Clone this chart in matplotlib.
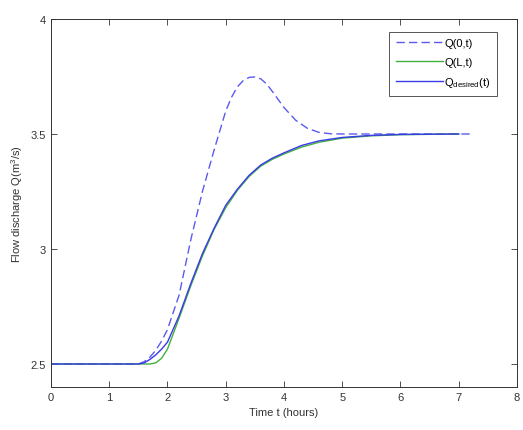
import matplotlib
matplotlib.use('Agg')
import matplotlib.pyplot as plt

# Upstream discharge Q(0,t)
t_up = [0, 1.5, 1.6, 1.7, 1.8, 1.9, 2.0, 2.2, 2.4, 2.6, 2.8, 3.0, 3.1, 3.2, 3.3,
        3.4, 3.5, 3.6, 3.7, 3.8, 3.9, 4.0, 4.2, 4.4, 4.6, 4.8, 5.0, 6.0, 7.2]
q_up = [2.5, 2.5, 2.51, 2.53, 2.56, 2.6, 2.65, 2.8, 3.04, 3.25, 3.43, 3.6, 3.66,
        3.705, 3.732, 3.746, 3.748, 3.74, 3.718, 3.685, 3.65, 3.615, 3.56, 3.525,
        3.507, 3.501, 3.5, 3.5, 3.5]

# Downstream and desired discharge
t_dn = [0, 1.5, 1.6, 1.7, 1.8, 1.9, 2.0, 2.2, 2.4, 2.6, 2.8, 3.0, 3.2, 3.4, 3.6,
        3.8, 4.0, 4.3, 4.6, 5.0, 5.5, 6.0, 7.0]
q_L = [2.5, 2.5, 2.5, 2.5, 2.505, 2.525, 2.565, 2.70, 2.84, 2.97, 3.085, 3.18,
       3.255, 3.315, 3.36, 3.39, 3.413, 3.443, 3.464, 3.482, 3.492, 3.497, 3.5]
q_des = [2.5, 2.5, 2.505, 2.52, 2.54, 2.565, 2.595, 2.71, 2.85, 2.98, 3.09, 3.19,
         3.26, 3.32, 3.365, 3.395, 3.418, 3.45, 3.47, 3.485, 3.494, 3.498, 3.5]

plt.rcParams['font.family'] = ['Liberation Sans', 'DejaVu Sans']
plt.rcParams['font.size'] = 8

fig = plt.figure(figsize=(5.23, 4.31), dpi=100)
ax = fig.add_axes([0.0975, 0.0998, 0.891, 0.8538])

ax.plot(t_up, q_up, '--', color='#5a5af0', lw=1.0, dashes=(6, 3), label='Q(0,t)')
ax.plot(t_dn, q_L, '-', color='#40b040', lw=1.0, label='Q(L,t)')
ax.plot(t_dn, q_des, '-', color='#3a3ae8', lw=1.0, label=r'Q$_{\mathregular{desired}}$(t)')

ax.set_xlim(0, 8)
ax.set_ylim(2.4, 4)
ax.set_xticks(range(0, 9))
ax.set_yticks([2.5, 3, 3.5, 4])
ax.set_yticklabels(['2.5', '3', '3.5', '4'])
ax.tick_params(direction='in', top=True, right=True, length=4, width=0.6, colors='#333333')
for s in ax.spines.values():
    s.set_linewidth(0.7)
    s.set_color('#333333')

ax.set_xlabel('Time t (hours)', color='#333333')
ax.set_ylabel(r'Flow discharge Q(m$^{\mathregular{3}}$/s)', color='#333333')

leg = ax.legend(loc='upper right', bbox_to_anchor=(0.97, 0.981), fancybox=False,
                framealpha=1, edgecolor='#555555', fontsize=8, handlelength=4.2,
                borderpad=0.6, labelspacing=0.75, handletextpad=0.15)
leg.get_frame().set_linewidth(0.7)

fig.savefig('out.png', dpi=100)
